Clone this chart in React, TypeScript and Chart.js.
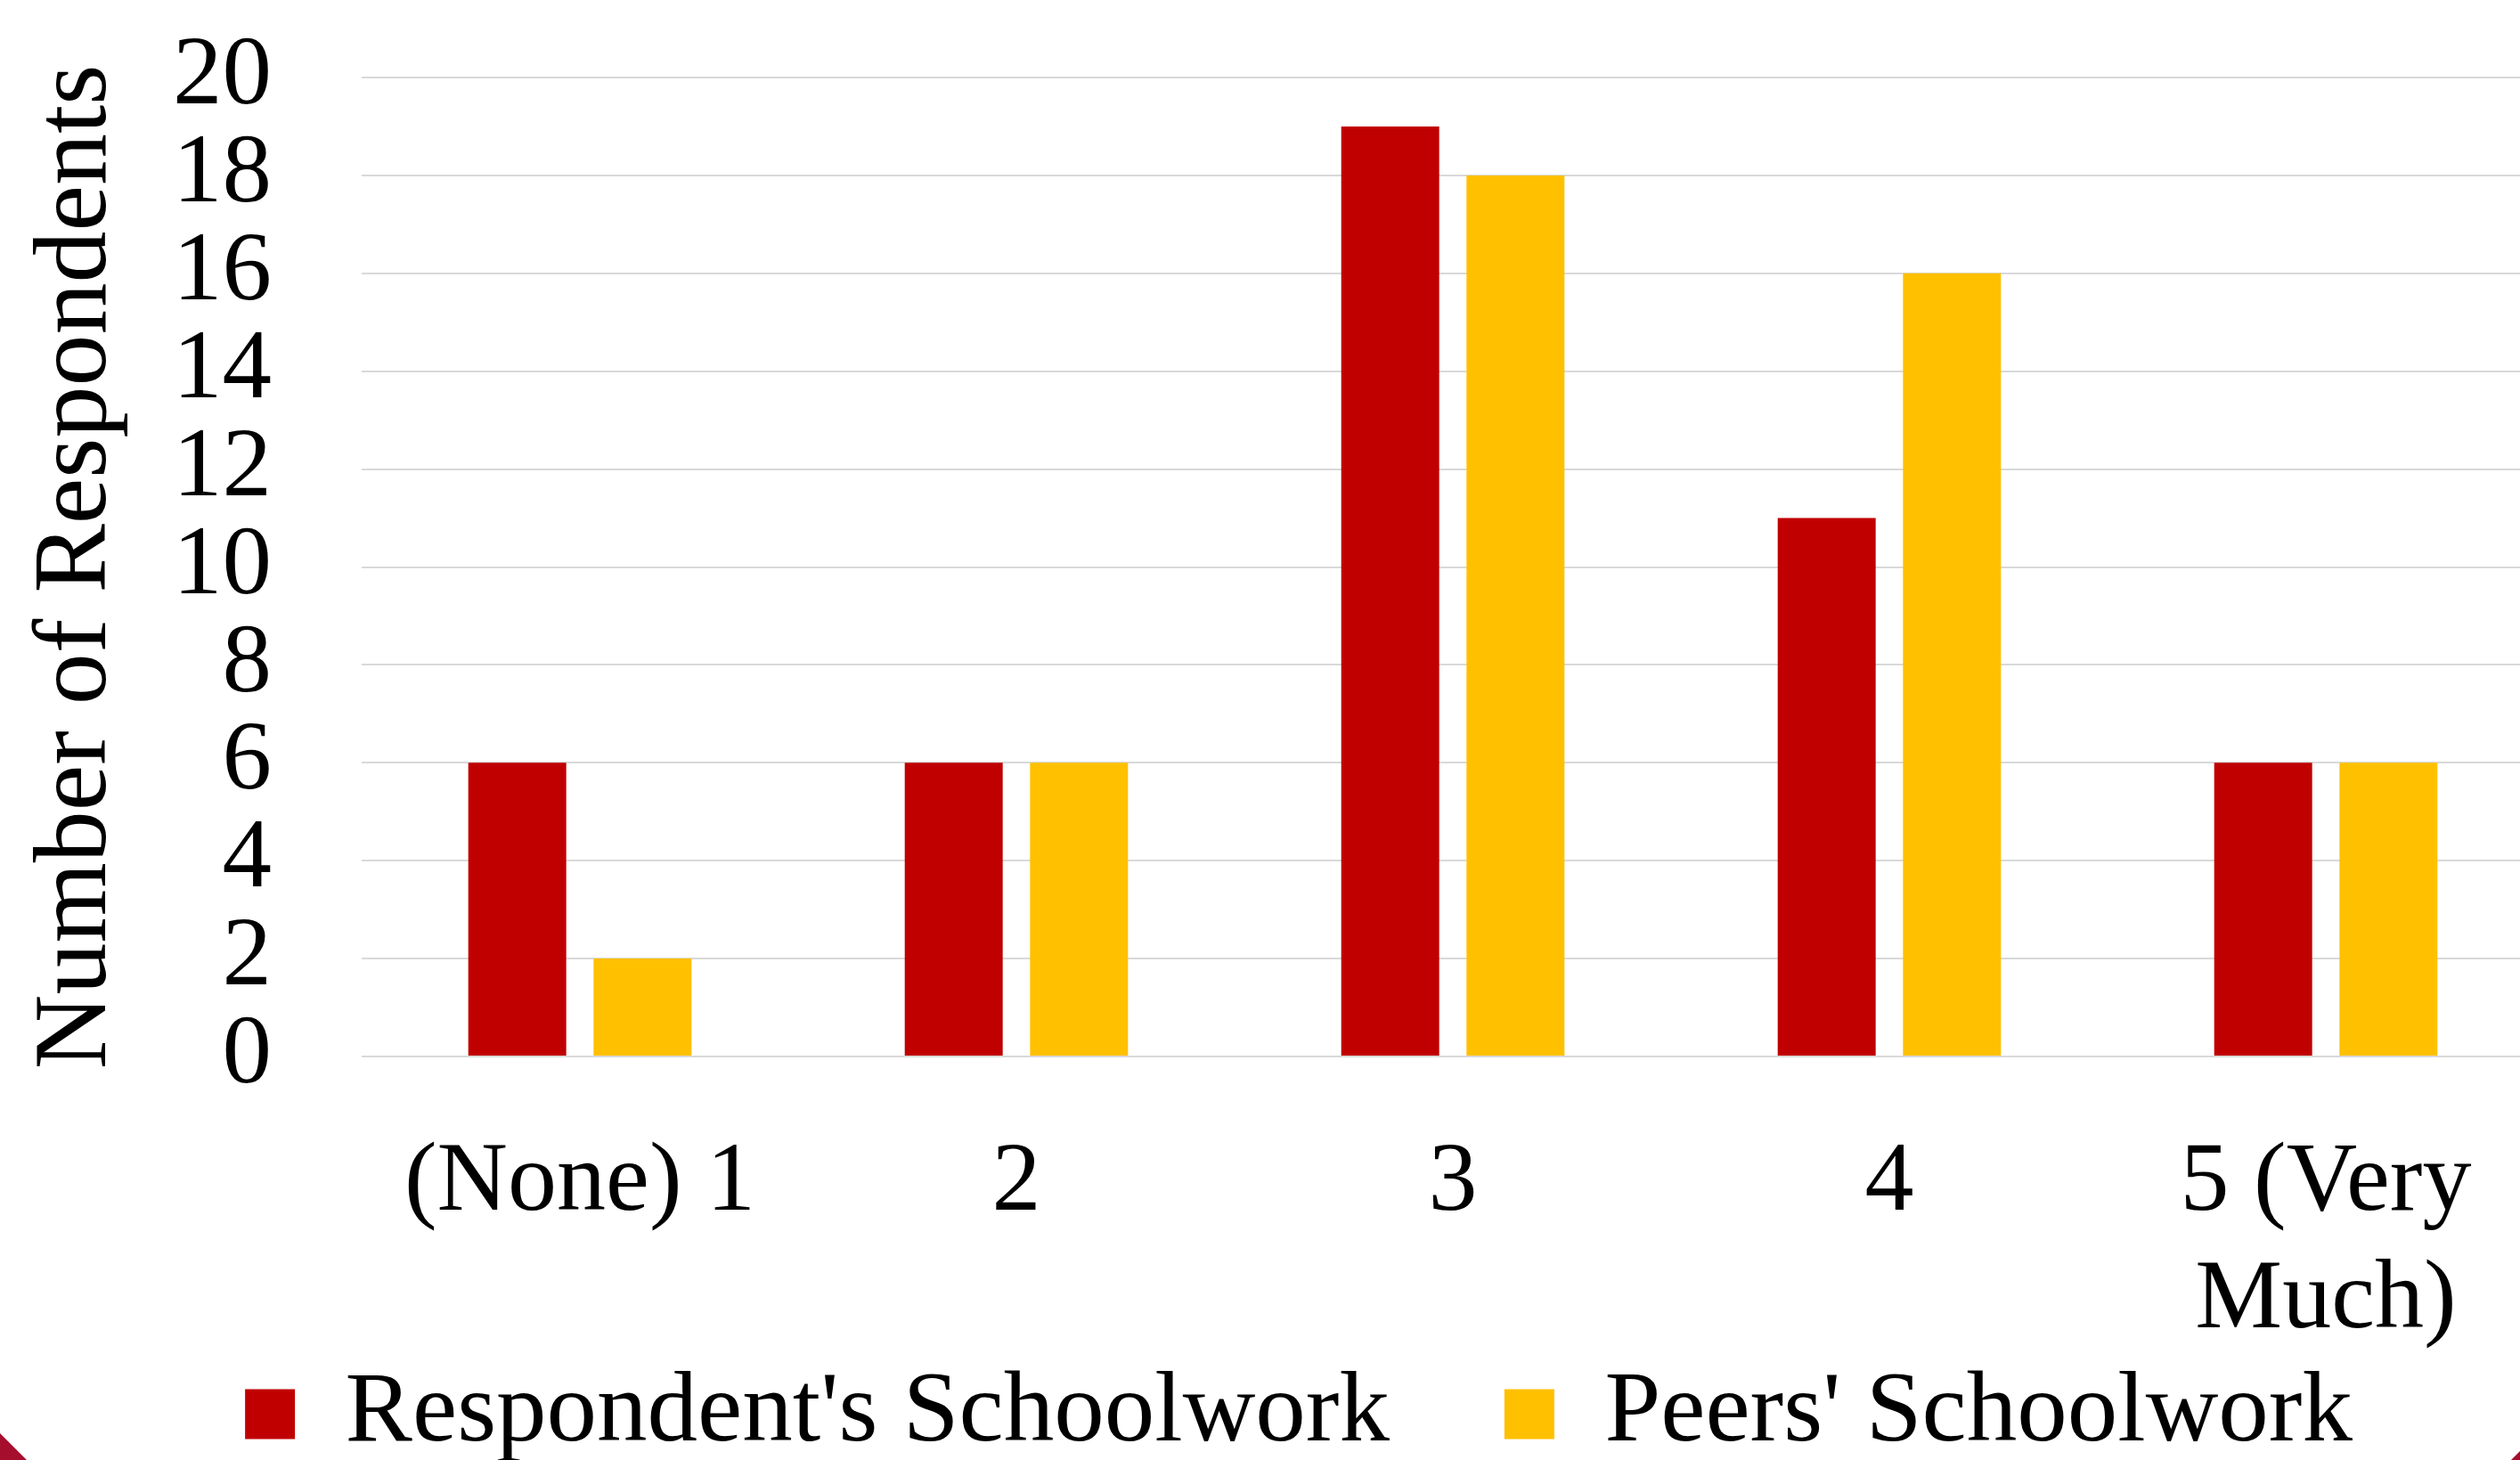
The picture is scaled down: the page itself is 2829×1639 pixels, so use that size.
import React, { useEffect, useRef } from "react";
import { Chart, registerables } from "chart.js";

Chart.register(...registerables);

const categories: (string | string[])[] = ["(None) 1", "2", "3", "4", ["5 (Very", "Much)"]];
const respondentValues = [6, 6, 19, 11, 6];
const peersValues = [2, 6, 18, 16, 6];
const seriesNames = ["Respondent's Schoolwork", "Peers' Schoolwork"];
const yTitle = "Number of Respondents";

const FONT = "'Liberation Serif', 'Times New Roman', serif";

// moves the bottom legend to its place after layout
const legendPlacer = {
  id: "legendPlacer",
  afterLayout(chart: any) {
    const lg = chart.legend;
    if (!lg) return;
    const dy = chart.chartArea.bottom + 216 - lg.top;
    const dx = 30;
    lg.top += dy;
    lg.bottom += dy;
    lg.left += dx;
    lg.right += dx;
  },
};

export default function App() {
  const ref = useRef<HTMLCanvasElement | null>(null);

  useEffect(() => {
    const canvas = ref.current;
    if (!canvas) return;
    const chart = new Chart(canvas, {
      type: "bar",
      data: {
        labels: categories,
        datasets: [
          {
            label: seriesNames[0],
            data: respondentValues,
            backgroundColor: "#C00000",
            borderWidth: 0,
            categoryPercentage: 0.574,
            barPercentage: 0.782,
          },
          {
            label: seriesNames[1],
            data: peersValues,
            backgroundColor: "#FFC000",
            borderWidth: 0,
            categoryPercentage: 0.574,
            barPercentage: 0.782,
          },
        ],
      },
      plugins: [legendPlacer],
      options: {
        responsive: false,
        animation: false,
        devicePixelRatio: 1,
        layout: { padding: { top: 87, left: 0, right: 0, bottom: 0 } },
        plugins: {
          tooltip: { enabled: false },
          legend: {
            position: "bottom",
            labels: {
              boxWidth: 56,
              boxHeight: 56,
              padding: 129,
              color: "#000",
              font: { family: FONT, size: 113 },
            },
          },
        },
        scales: {
          x: {
            grid: { display: false, drawTicks: false },
            border: { display: false },
            ticks: {
              color: "#000",
              padding: 77,
              maxRotation: 0,
              autoSkip: false,
              font: { family: FONT, size: 110, lineHeight: 1.2 },
            },
            afterFit: (scale: any) => {
              scale.height = 345;
            },
          },
          y: {
            min: 0,
            max: 20,
            grid: { color: "#d9d9d9", lineWidth: 2, drawTicks: false },
            border: { display: false },
            ticks: {
              stepSize: 2,
              autoSkip: false,
              color: "#000",
              padding: 101,
              font: { family: FONT, size: 111, lineHeight: 1.2 },
            },
            title: {
              display: true,
              text: yTitle,
              color: "#000",
              padding: { top: 18, bottom: 0 },
              font: { family: FONT, size: 116, lineHeight: 1.2 },
            },
            afterFit: (scale: any) => {
              scale.width = 406;
              scale.paddingTop = 0;
              scale.paddingBottom = 0;
            },
          },
        },
      },
    });
    return () => chart.destroy();
  }, []);

  return (
    <div
      style={{
        position: "fixed",
        left: 0,
        top: 0,
        width: "2829px",
        height: "1639px",
        overflow: "hidden",
        background: "#fff",
      }}
    >
      <canvas
        ref={ref}
        width={2856}
        height={1783}
        style={{ display: "block", width: "2856px", height: "1783px" }}
      />
      <div
        style={{
          position: "absolute",
          left: 0,
          top: 1609,
          width: 30,
          height: 30,
          background: "#A50F2D",
          clipPath: "polygon(0 0, 100% 100%, 0 100%)",
        }}
      />
      <div
        style={{
          position: "absolute",
          right: 0,
          top: 1629,
          width: 10,
          height: 10,
          background: "#A50F2D",
          clipPath: "polygon(100% 0, 100% 100%, 0 100%)",
        }}
      />
    </div>
  );
}
